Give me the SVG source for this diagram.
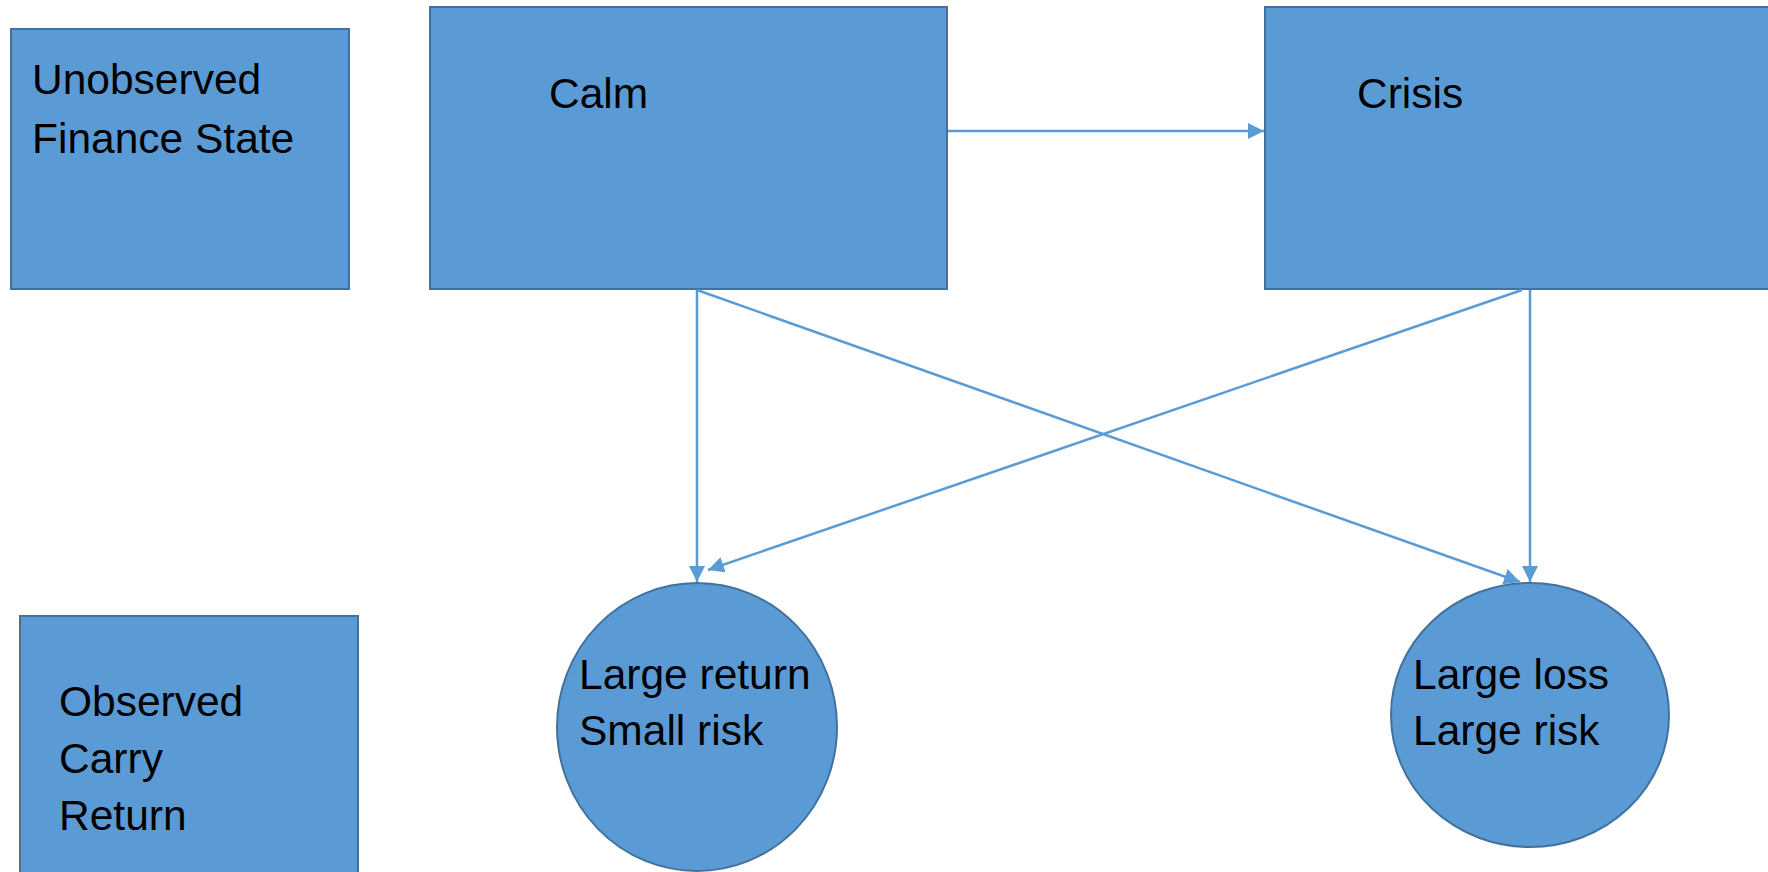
<svg xmlns="http://www.w3.org/2000/svg" width="1768" height="872" viewBox="0 0 1768 872">
<style>
.node{fill:#5B9BD5;stroke:#41719C;stroke-width:2}
.lbl{font-family:"Liberation Sans",Arial,sans-serif;font-size:42.5px;fill:#000}
.edge{fill:none;stroke:#5B9BD5;stroke-width:2.5}
</style>
<defs>
<marker id="arr" markerUnits="userSpaceOnUse" markerWidth="17" markerHeight="17" refX="16" refY="8" orient="auto">
<path d="M0,0 L16,8 L0,16 z" fill="#5B9BD5"/>
</marker>
</defs>
<rect width="1768" height="872" fill="#fff"/>
<g id="unobserved">
<rect class="node" x="11" y="29" width="338" height="260"/>
<text class="lbl" x="32" y="94">Unobserved</text>
<text class="lbl" x="32" y="153">Finance State</text>
</g>
<g id="calm">
<rect class="node" x="430" y="7" width="517" height="282"/>
<text class="lbl" x="549" y="108">Calm</text>
</g>
<g id="crisis">
<rect class="node" x="1265" y="7" width="520" height="282"/>
<text class="lbl" x="1357" y="108">Crisis</text>
</g>
<g id="observed">
<rect class="node" x="20" y="616" width="338" height="270"/>
<text class="lbl" x="59" y="716">Observed</text>
<text class="lbl" x="59" y="773">Carry</text>
<text class="lbl" x="59" y="830">Return</text>
</g>
<g id="large-return">
<ellipse class="node" cx="697" cy="727" rx="140" ry="144"/>
<text class="lbl" x="579" y="689">Large return</text>
<text class="lbl" x="579" y="745">Small risk</text>
</g>
<g id="large-loss">
<ellipse class="node" cx="1530" cy="715" rx="139" ry="132"/>
<text class="lbl" x="1413" y="689">Large loss</text>
<text class="lbl" x="1413" y="745">Large risk</text>
</g>
<g id="connectors">
<line class="edge" x1="948" y1="131" x2="1264" y2="131" marker-end="url(#arr)"/>
<line class="edge" x1="697" y1="290" x2="697" y2="582" marker-end="url(#arr)"/>
<line class="edge" x1="697" y1="290" x2="1520" y2="582" marker-end="url(#arr)"/>
<line class="edge" x1="1530" y1="290" x2="1530" y2="582" marker-end="url(#arr)"/>
<line class="edge" x1="1522" y1="290" x2="708" y2="570" marker-end="url(#arr)"/>
</g>
</svg>
